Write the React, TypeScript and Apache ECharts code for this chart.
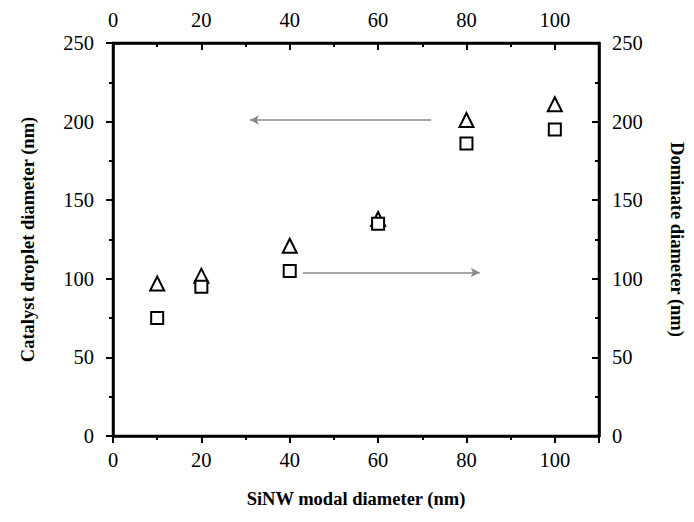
import React, { useEffect, useRef } from "react";
import * as echarts from "echarts";

const modalDiameter = [10, 20, 40, 60, 80, 100];
const catalystDroplet = [97, 102, 121, 138, 201, 211];
const dominateDiameter = [75, 95, 105, 135, 186, 195];
const xTicks = [0, 20, 40, 60, 80, 100];
const yTicks = [0, 50, 100, 150, 200, 250];
const leftArrow = [[72, 201], [31, 201]];
const rightArrow = [[43, 104], [83, 104]];

const FONT = "Liberation Serif";

export default function App() {
  const ref = useRef<HTMLDivElement>(null);
  useEffect(() => {
    if (!ref.current) return;
    const chart = echarts.init(ref.current, undefined, { renderer: "svg" });
    const mkLine = () => ({ show: true, onZero: false, lineStyle: { color: "#000", width: 2.5 } });
    const label = { color: "#000", fontFamily: FONT, fontSize: 20.5 };
    const nameStyle = { color: "#000", fontFamily: FONT, fontSize: 18.5, fontWeight: "bold" as const };
    const mkMinor = () => ({ show: true, splitNumber: 2, length: 4, lineStyle: { color: "#000", width: 2 } });
    const xFmt = (v: number) => (xTicks.includes(v) ? String(v) : "");
    const yFmt = (v: number) => (yTicks.includes(v) ? String(v) : "");
    chart.setOption({
      animation: false,
      backgroundColor: "#fff",
      grid: {
        left: 113,
        right: 95,
        top: 43,
        bottom: 86,
        outerBoundsMode: "none",
        show: true,
        borderColor: "#000",
        borderWidth: 2.5,
        backgroundColor: "transparent",
      },
      xAxis: [
        {
          type: "value",
          min: 0,
          max: 110,
          interval: 20,
          position: "bottom",
          axisLine: mkLine(),
          splitLine: { show: false },
          minorTick: mkMinor(),
          name: "SiNW modal diameter (nm)",
          nameLocation: "middle",
          nameGap: 53,
          nameTextStyle: nameStyle,
          axisTick: { show: true, inside: false, length: 7, lineStyle: { color: "#000", width: 2 } },
          axisLabel: { ...label, margin: 13, showMaxLabel: false, formatter: xFmt },
        },
        {
          type: "value",
          min: 0,
          max: 110,
          interval: 20,
          position: "top",
          axisLine: mkLine(),
          splitLine: { show: false },
          minorTick: mkMinor(),
          axisTick: { show: true, inside: true, length: 7, lineStyle: { color: "#000", width: 2 } },
          axisLabel: { ...label, margin: 13, showMaxLabel: false, formatter: xFmt },
        },
      ],
      yAxis: [
        {
          type: "value",
          min: 0,
          max: 250,
          interval: 50,
          position: "left",
          axisLine: mkLine(),
          splitLine: { show: false },
          minorTick: mkMinor(),
          name: "Catalyst droplet diameter (nm)",
          nameLocation: "middle",
          nameGap: 76,
          nameTextStyle: nameStyle,
          axisTick: { show: true, inside: false, length: 7, lineStyle: { color: "#000", width: 2 } },
          axisLabel: { ...label, margin: 19, formatter: yFmt },
        },
        {
          type: "value",
          min: 0,
          max: 250,
          interval: 50,
          position: "right",
          axisLine: mkLine(),
          splitLine: { show: false },
          minorTick: mkMinor(),
          name: "Dominate diameter (nm)",
          nameLocation: "middle",
          nameGap: 68,
          nameRotate: -90,
          nameTextStyle: nameStyle,
          axisTick: { show: true, inside: true, length: 7, lineStyle: { color: "#000", width: 2 } },
          axisLabel: { ...label, margin: 13, formatter: yFmt },
        },
      ],
      series: [
        {
          name: "Catalyst droplet diameter",
          type: "scatter",
          xAxisIndex: 0,
          yAxisIndex: 0,
          symbol: "triangle",
          symbolSize: 14,
          itemStyle: { color: "#fff", borderColor: "#000", borderWidth: 2, opacity: 1 },
          data: modalDiameter.map((x, i) => [x, catalystDroplet[i]]),
          markLine: {
            silent: true,
            symbol: ["none", "arrow"],
            symbolSize: [7, 9],
            label: { show: false },
            lineStyle: { color: "#888", width: 1.5, type: "solid" },
            data: [[{ coord: leftArrow[0] }, { coord: leftArrow[1] }]],
          },
        },
        {
          name: "Dominate diameter",
          type: "scatter",
          xAxisIndex: 0,
          yAxisIndex: 1,
          symbol: "rect",
          symbolSize: 12,
          itemStyle: { color: "#fff", borderColor: "#000", borderWidth: 2, opacity: 1 },
          data: modalDiameter.map((x, i) => [x, dominateDiameter[i]]),
          markLine: {
            silent: true,
            symbol: ["none", "arrow"],
            symbolSize: [7, 9],
            label: { show: false },
            lineStyle: { color: "#888", width: 1.5, type: "solid" },
            data: [[{ coord: rightArrow[0] }, { coord: rightArrow[1] }]],
          },
        },
      ],
    });
    return () => chart.dispose();
  }, []);
  return <div ref={ref} style={{ width: 694, height: 522, position: "absolute", left: 0, top: 0 }} />;
}
